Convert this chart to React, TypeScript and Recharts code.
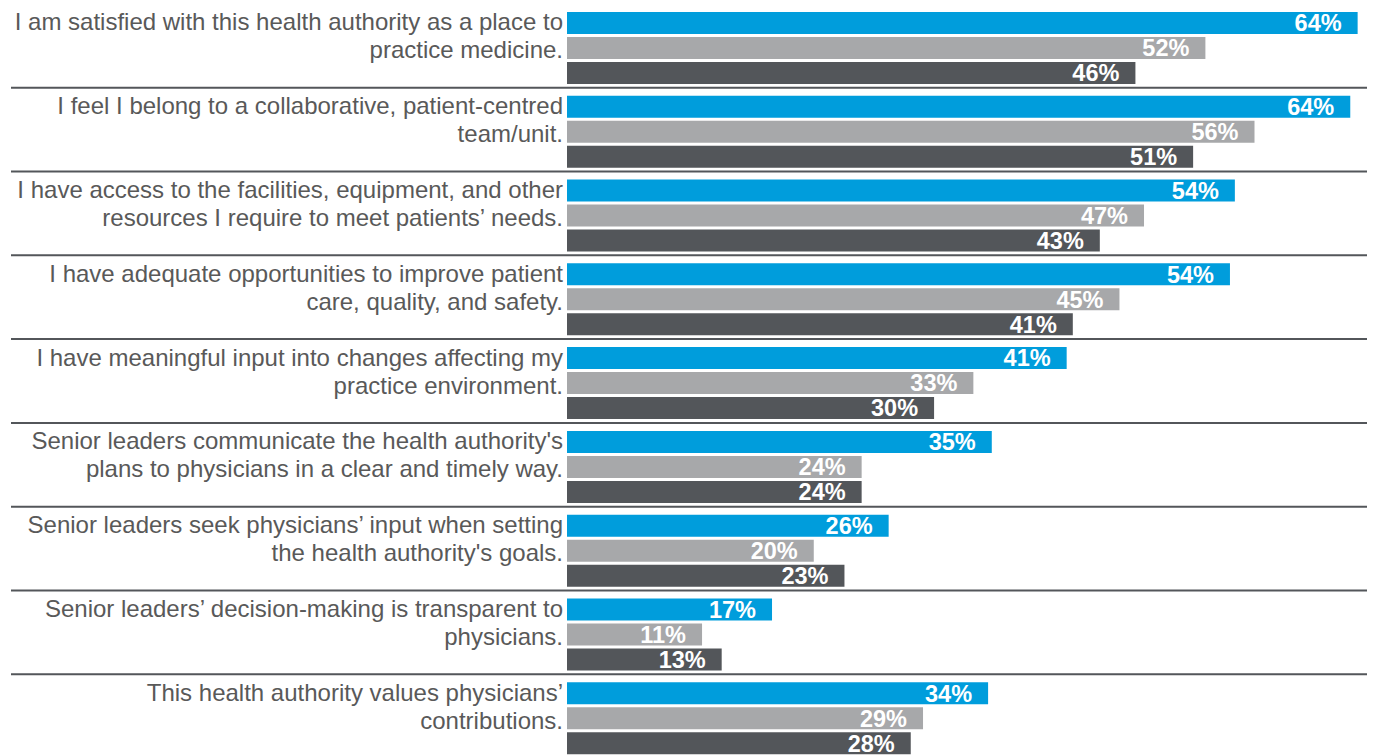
import React from 'react';
import { BarChart, Bar, XAxis, YAxis, LabelList } from 'recharts';

const categories: string[] = [
  'I am satisfied with this health authority as a place to\npractice medicine.',
  'I feel I belong to a collaborative, patient-centred\nteam/unit.',
  'I have access to the facilities, equipment, and other\nresources I require to meet patients\u2019 needs.',
  'I have adequate opportunities to improve patient\ncare, quality, and safety.',
  'I have meaningful input into changes affecting my\npractice environment.',
  "Senior leaders communicate the health authority's\nplans to physicians in a clear and timely way.",
  "Senior leaders seek physicians\u2019 input when setting\nthe health authority's goals.",
  'Senior leaders\u2019 decision-making is transparent to\nphysicians.',
  'This health authority values physicians\u2019\ncontributions.',
];

const blueValues: number[] = [64.4, 63.8, 54.4, 54.0, 40.7, 34.6, 26.2, 16.7, 34.3];
const lightValues: number[] = [52.0, 56.0, 47.0, 45.0, 33.1, 24.0, 20.1, 11.0, 29.0];
const darkValues: number[] = [46.3, 51.0, 43.4, 41.2, 29.9, 24.0, 22.6, 12.6, 28.0];

const data = categories.map((name, i) => ({
  name,
  blue: blueValues[i],
  light: lightValues[i],
  dark: darkValues[i],
}));

const CHART_W = 1373;
const CHART_H = 760;
const MARGIN = { top: 6, right: 8, bottom: 0, left: 0 };
const BAND = (CHART_H - MARGIN.top - MARGIN.bottom) / categories.length;
const FONT = '"Liberation Sans", Arial, Helvetica, sans-serif';

const CategoryTick = (props: any) => {
  const { x, y, payload, index } = props;
  const lines = String(payload.value).split('\n');
  const isLast = index === categories.length - 1;
  return (
    <g>
      <text x={x} y={y} textAnchor="end" fill="#595959" fontSize={24} fontFamily={FONT}>
        {lines.map((l, i) => (
          <tspan key={i} x={x} y={y - 17.5 + i * 28}>
            {l}
          </tspan>
        ))}
      </text>
      {!isLast && (
        <line
          x1={11}
          x2={CHART_W - 6}
          y1={y + BAND / 2 - 2}
          y2={y + BAND / 2 - 2}
          stroke="#53565a"
          strokeWidth={2}
        />
      )}
    </g>
  );
};

const fmt = (v: any) => `${Math.round(Number(v))}%`;

const labelStyle = {
  fill: '#ffffff',
  fontSize: 23.5,
  fontWeight: 700,
  fontFamily: FONT,
};

export default function App() {
  return (
    <div
      style={{
        position: 'absolute',
        left: 0,
        top: 0,
        width: CHART_W,
        height: 756,
        overflow: 'hidden',
        background: '#ffffff',
      }}
    >
      <BarChart
        width={CHART_W}
        height={CHART_H}
        data={data}
        layout="vertical"
        margin={MARGIN}
        barCategoryGap={6}
        barGap={3}
      >
        <XAxis type="number" domain={[0, 65]} hide />
        <YAxis
          type="category"
          dataKey="name"
          width={567}
          tickLine={false}
          axisLine={false}
          tickSize={2}
          tickMargin={2}
          interval={0}
          tick={<CategoryTick />}
        />
        <Bar dataKey="blue" fill="#009ddc" isAnimationActive={false}>
          <LabelList dataKey="blue" position="insideRight" offset={16} formatter={fmt} style={labelStyle} />
        </Bar>
        <Bar dataKey="light" fill="#a7a8aa" isAnimationActive={false}>
          <LabelList dataKey="light" position="insideRight" offset={16} formatter={fmt} style={labelStyle} />
        </Bar>
        <Bar dataKey="dark" fill="#53565a" isAnimationActive={false}>
          <LabelList dataKey="dark" position="insideRight" offset={16} formatter={fmt} style={labelStyle} />
        </Bar>
      </BarChart>
    </div>
  );
}
